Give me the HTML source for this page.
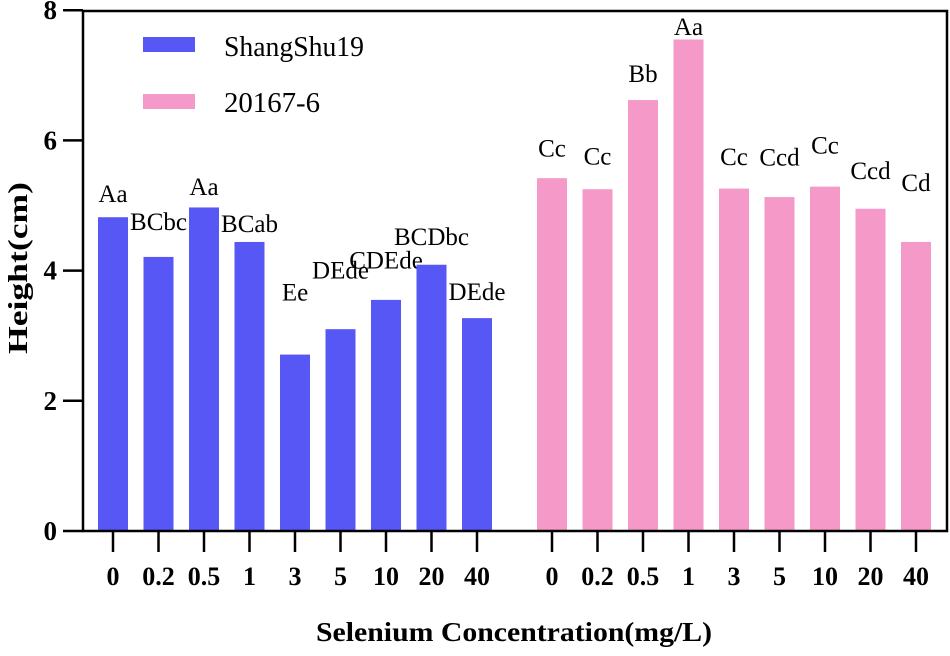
<!DOCTYPE html>
<html><head><meta charset="utf-8"><style>
body{margin:0;background:#fff}
svg, svg text{font-family:"Liberation Serif","Times New Roman",serif !important}
</style></head><body>
<svg id="chart" width="950" height="651" viewBox="0 0 950 651" xmlns="http://www.w3.org/2000/svg" font-family="Liberation Serif, serif" style="font-family:'Liberation Serif',serif">
<g id="bars"></g>
<g id="axes"></g>
<g>
<rect x="143" y="37" width="52" height="15" fill="#5757F5"/>
<text x="224" y="56" font-size="28" textLength="140" lengthAdjust="spacingAndGlyphs">ShangShu19</text>
<rect x="143" y="94" width="52" height="15" fill="#F59AC8"/>
<text x="224" y="112" font-size="28" textLength="96" lengthAdjust="spacingAndGlyphs">20167-6</text>
</g>
<text transform="translate(27,268) rotate(-90)" text-anchor="middle" font-size="27" font-weight="bold" textLength="172" lengthAdjust="spacingAndGlyphs">Height(cm)</text>
<text x="514" y="641" text-anchor="middle" font-size="27" font-weight="bold" textLength="396" lengthAdjust="spacingAndGlyphs">Selenium Concentration(mg/L)</text>
</svg>
<script>
const categories=["0","0.2","0.5","1","3","5","10","20","40"];
const shangshuValues=[4.82,4.21,4.97,4.44,2.71,3.10,3.55,4.09,3.27];
const pinkValues=[5.42,5.25,6.62,7.55,5.26,5.13,5.29,4.95,4.44];
const shangshuErr=[0.2,0.38,0.16,0.12,0.8,0.75,0.45,0.27,0.25];
const pinkErr=[0.3,0.35,0.25,0.04,0.33,0.45,0.48,0.43,0.75];
const shangshuLetters=["Aa","BCbc","Aa","BCab","Ee","DEde","CDEde","BCDbc","DEde"];
const pinkLetters=["Cc","Cc","Bb","Aa","Cc","Ccd","Cc","Ccd","Cd"];
const yTicks=[0,2,4,6,8];
const NS="http://www.w3.org/2000/svg";
const y0=531,pxU=65.1,plotLeft=83,plotRight=947,plotTop=11;
const yScale=v=>y0-v*pxU;
const groupStart=[113,552],step=45.5,bw=30;
const xScale=(g,i)=>groupStart[g]+i*step;
function mk(tag,attrs,parent){const e=document.createElementNS(NS,tag);for(const k in attrs)e.setAttribute(k,attrs[k]);parent.appendChild(e);return e;}
const barsG=document.getElementById('bars'),axesG=document.getElementById('axes');
[[shangshuValues,shangshuErr,shangshuLetters,"#5757F5","shangshu19"],[pinkValues,pinkErr,pinkLetters,"#F59AC8","20167-6"]].forEach((s,g)=>{
 s[0].forEach((v,i)=>{
  const r=mk('rect',{x:xScale(g,i)-bw/2,y:yScale(v),width:bw,height:y0-yScale(v),fill:s[3]},barsG);
  
  
  const t=mk('text',{x:xScale(g,i),y:yScale(v+s[1][i])-2,'text-anchor':'middle','font-size':'25'},barsG);
  t.textContent=s[2][i];
  
  
  const tk=mk('line',{x1:xScale(g,i),x2:xScale(g,i),y1:y0,y2:y0+21,stroke:'#000','stroke-width':2.5},axesG);
  
  
  const tl=mk('text',{x:xScale(g,i),y:y0+54,'text-anchor':'middle','font-size':'26','font-weight':'bold'},axesG);
  tl.textContent=categories[i];
  
  
 });
});
const frame=mk('rect',{x:plotLeft,y:plotTop,width:plotRight-plotLeft,height:y0-plotTop,fill:'none',stroke:'#000','stroke-width':2.5},axesG);


yTicks.forEach(v=>{
 const l=mk('line',{x1:63,x2:plotLeft,y1:yScale(v),y2:yScale(v),stroke:'#000','stroke-width':2.5},axesG);
 
 
 const t=mk('text',{x:57,y:yScale(v)+9,'text-anchor':'end','font-size':'27','font-weight':'bold'},axesG);
 t.textContent=v;
 
 
});
</script>
</body></html>
